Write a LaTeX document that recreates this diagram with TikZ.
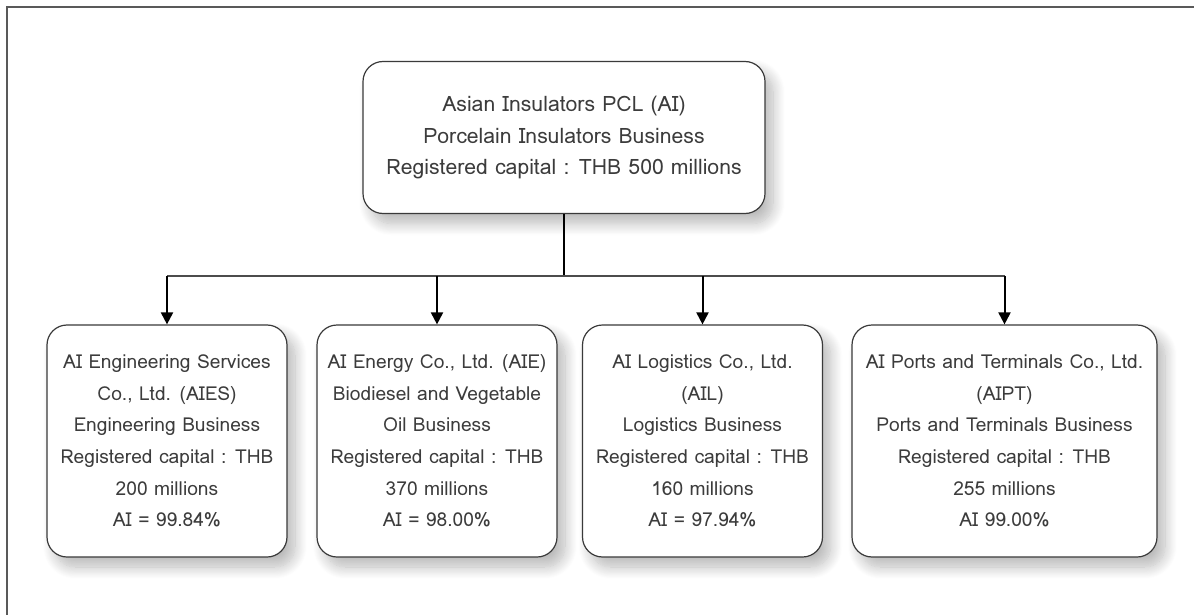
\documentclass[tikz,border=0pt]{standalone}
\usepackage{fontspec}
\setmainfont{Loma}
\usetikzlibrary{arrows.meta,shadows.blur}
\definecolor{boxline}{HTML}{3A3A3A}
\definecolor{txtgray}{HTML}{3C3C3C}
\begin{document}
\begin{tikzpicture}[x=0.5pt, y=-0.5pt,
        company/.style = {draw=boxline, line width=0.6pt, rounded corners=10pt, fill=white,
            align=center, text=txtgray, font=\fontsize{9.6}{15.8}\selectfont,
            blur shadow={shadow xshift=4pt, shadow yshift=-5pt, shadow blur radius=6pt, shadow blur steps=14, shadow opacity=28}},
        down/.style = {-{Triangle[width=6pt, length=6pt]}, line width=1pt, black}]
        \useasboundingbox (0, 0) rectangle (1194, 615);
        \draw[gray!70!black, line width=0.8pt] (7, 615) -- (7, 7) -- (1194, 7);
        % parent
        \node[company, font=\fontsize{10.6}{15.8}\selectfont, minimum width=201pt, minimum height=76pt] (ai) at (564, 137.5)
            {Asian Insulators PCL (AI)\\Porcelain Insulators Business\\Registered capital : THB 500 millions};
        % subsidiaries
        \node[company, minimum width=120pt, minimum height=116pt] (aies) at (167, 441)
            {AI Engineering Services\\Co., Ltd. (AIES)\\Engineering Business\\Registered capital : THB\\200 millions\\AI = 99.84\%};
        \node[company, minimum width=120pt, minimum height=116pt] (aie) at (437, 441)
            {AI Energy Co., Ltd. (AIE)\\Biodiesel and Vegetable\\Oil Business\\Registered capital : THB\\370 millions\\AI = 98.00\%};
        \node[company, minimum width=120pt, minimum height=116pt] (ail) at (702.5, 441)
            {AI Logistics Co., Ltd.\\(AIL)\\Logistics Business\\Registered capital : THB\\160 millions\\AI = 97.94\%};
        \node[company, minimum width=152.5pt, minimum height=116pt] (aipt) at (1004.5, 441)
            {AI Ports and Terminals Co., Ltd.\\(AIPT)\\Ports and Terminals Business\\Registered capital : THB\\255 millions\\AI 99.00\%};
        % connectors
        \coordinate (split) at (564, 276);
        \draw[line width=1pt, black] (ai.south) -- (split);
        \draw[line width=0.7pt, gray!60!black] (aies.north |- split) -- (aipt.north |- split);
        \draw[down] (aies.north |- split) -- (aies.north);
        \draw[down] (aie.north |- split) -- (aie.north);
        \draw[down] (ail.north |- split) -- (ail.north);
        \draw[down] (aipt.north |- split) -- (aipt.north);
    \end{tikzpicture}
\end{document}
